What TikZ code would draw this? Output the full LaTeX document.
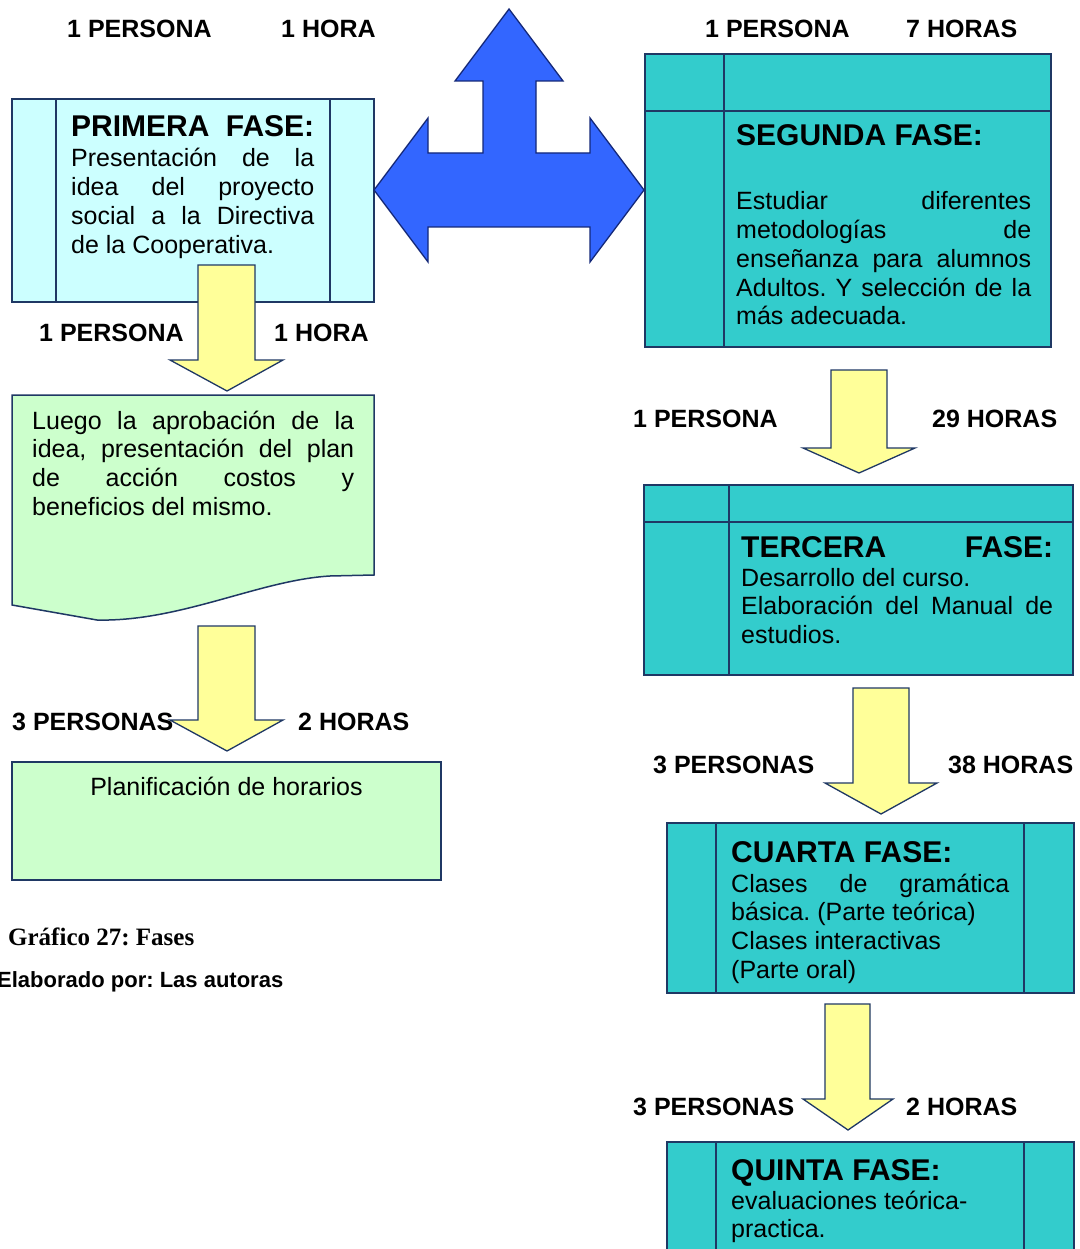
\documentclass[tikz,border=0pt]{standalone}
\usepackage{fontspec}
\setmainfont{Liberation Sans}
\newfontfamily\capserif{Liberation Serif}
\frenchspacing
\definecolor{lcyan}{HTML}{CCFFFF}
\definecolor{tealf}{HTML}{33CCCC}
\definecolor{lgreen}{HTML}{CCFFCC}
\definecolor{lyellow}{HTML}{FFFF99}
\definecolor{bluearr}{HTML}{3366FF}
\definecolor{navyline}{RGB}{31,56,100}
\definecolor{arrline}{RGB}{20,40,120}
\newcommand\jline[1]{\hbox to\hsize{#1}}
\newcommand\lline[1]{\hbox{#1}}
\tikzset{
  boxcyan/.style={fill=lcyan, draw=navyline, line width=1.5pt},
  boxteal/.style={fill=tealf, draw=navyline, line width=1.5pt},
  boxgreen/.style={fill=lgreen, draw=navyline, line width=1.5pt},
  divline/.style={draw=navyline, line width=1.5pt},
  yarrow/.style={fill=lyellow, draw=navyline, line width=1.3pt, line join=miter},
  barrow/.style={fill=bluearr, draw=arrline, line width=1.3pt, line join=miter},
  lab/.style={font=\fontsize{25}{29}\selectfont\bfseries\frenchspacing, inner sep=0pt, anchor=base west},
  head/.style={font=\fontsize{30}{34}\selectfont\bfseries\frenchspacing, inner sep=0pt, anchor=base west},
  body/.style={font=\fontsize{25}{28.7}\selectfont\frenchspacing, inner sep=0pt, anchor=base west},
}
\begin{document}
\begin{tikzpicture}[x=1pt,y=-1pt]
\useasboundingbox (0,0) rectangle (1079,1249);
\fill[white] (0,0) rectangle (1079,1249);

% ---- boxes ----
% Primera fase
\draw[boxcyan] (12,99) rectangle (374,302);
\draw[divline] (56,99) -- (56,302);
\draw[divline] (330,99) -- (330,302);
% document shape
\draw[boxgreen] (12,395) -- (374,395) -- (374,575) -- (330,576)
  .. controls (260,580) and (180,622) .. (97,620) -- (12,605) -- cycle;
% planificacion
\draw[boxgreen] (12,762) rectangle (441,880);
% Segunda fase
\draw[boxteal] (645,54) rectangle (1051,347);
\draw[divline] (645,111) -- (1051,111);
\draw[divline] (724,54) -- (724,347);
% Tercera fase
\draw[boxteal] (644,485) rectangle (1073,675);
\draw[divline] (644,522) -- (1073,522);
\draw[divline] (729,485) -- (729,675);
% Cuarta fase
\draw[boxteal] (667,823) rectangle (1074,993);
\draw[divline] (716,823) -- (716,993);
\draw[divline] (1024,823) -- (1024,993);
% Quinta fase
\draw[boxteal] (667,1142) rectangle (1074,1275);
\draw[divline] (716,1142) -- (716,1275);
\draw[divline] (1024,1142) -- (1024,1275);

% ---- blue three-way arrow ----
\draw[barrow] (509,9) -- (563,81) -- (536,81) -- (536,153) -- (590,153)
  -- (590,118) -- (644,190) -- (590,262) -- (590,227) -- (428,227)
  -- (428,262) -- (374,190) -- (428,118) -- (428,153) -- (483,153)
  -- (483,81) -- (455,81) -- cycle;

% ---- yellow arrows ----
\draw[yarrow] (198,265) -- (255,265) -- (255,360) -- (283,360) -- (227,391)
  -- (170,360) -- (198,360) -- cycle;
\draw[yarrow] (198,626) -- (255,626) -- (255,720) -- (283,720) -- (227,751)
  -- (170,720) -- (198,720) -- cycle;
\draw[yarrow] (831,370) -- (887,370) -- (887,448) -- (915,448) -- (859,473)
  -- (803,448) -- (831,448) -- cycle;
\draw[yarrow] (853,688) -- (909,688) -- (909,783) -- (937,783) -- (881,814)
  -- (825,783) -- (853,783) -- cycle;
\draw[yarrow] (825,1004) -- (870,1004) -- (870,1099) -- (893,1099) -- (848,1130)
  -- (803,1099) -- (825,1099) -- cycle;

% ---- labels ----
\node[lab] (t1p) at (67,38) {1 PERSONA};
\node[lab] (t1h) at (281,38) {1 HORA};
\node[lab] (t2p) at (705,38) {1 PERSONA};
\node[lab] (t2h) at (906,38) {7 HORAS};
\node[lab] (a1p) at (39,341) {1 PERSONA};
\node[lab] (a1h) at (274,341) {1 HORA};
\node[lab] (a2p) at (12,730) {3 PERSONAS};
\node[lab] (a2h) at (298,730) {2 HORAS};
\node[lab] (a3p) at (633,427) {1 PERSONA};
\node[lab] (a3h) at (932,427) {29 HORAS};
\node[lab] (a4p) at (653,773) {3 PERSONAS};
\node[lab] (a4h) at (948,773) {38 HORAS};
\node[lab] (a5p) at (633,1115) {3 PERSONAS};
\node[lab] (a5h) at (906,1115) {2 HORAS};

% ---- box texts ----
\node[head] (h1) at (71,137) {\hbox to 243pt{PRIMERA FASE:}};
\node[body] (b1) at (71,167) {\vtop{\hsize=243pt
  \jline{Presentación de la}\jline{idea del proyecto}
  \jline{social a la Directiva}\lline{de la Cooperativa.}}};

\node[body] (b2) at (32,429) {\vtop{\hsize=322pt
  \jline{Luego la aprobación de la}\jline{idea, presentación del plan}
  \jline{de acción costos y}\lline{beneficios del mismo.}}};

\node[body, anchor=base] (b3) at (226.5,795) {Planificación de horarios};

\node[head] (h2) at (736,146) {SEGUNDA FASE:};
\node[body] (b4) at (736,210) {\vtop{\hsize=295pt
  \jline{Estudiar diferentes}\jline{metodologías de}
  \jline{enseñanza para alumnos}\jline{Adultos. Y selección de la}
  \lline{más adecuada.}}};

\node[head] (h3) at (741,557) {\hbox to 312pt{TERCERA\hfill FASE:}};
\node[body] (b5) at (741,586) {\vtop{\hsize=312pt
  \lline{Desarrollo del curso.}\jline{Elaboración del Manual de}
  \lline{estudios.}}};

\node[head] (h4) at (731,862) {CUARTA FASE:};
\node[body] (b6) at (731,892) {\vtop{\hsize=278pt
  \jline{Clases de gramática}\lline{básica. (Parte teórica)}
  \lline{Clases interactivas}\lline{(Parte oral)}}};

\node[head] (h5) at (731,1180) {QUINTA FASE:};
\node[body] (b7) at (731,1209) {\vtop{\hsize=278pt
  \lline{evaluaciones teórica-}\lline{practica.}}};

% ---- captions ----
\node[inner sep=0pt, anchor=base west, font=\capserif\fontsize{25}{29}\selectfont\bfseries\frenchspacing] (cap1) at (8,945) {Gráfico 27: Fases};
\node[inner sep=0pt, anchor=base west, font=\fontsize{22}{26}\selectfont\bfseries\frenchspacing] (cap2) at (-3,987) {Elaborado por: Las autoras};
\end{tikzpicture}
\end{document}
